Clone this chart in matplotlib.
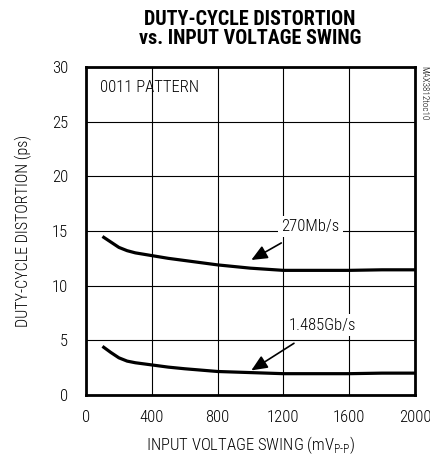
import matplotlib
matplotlib.use("Agg")
import matplotlib.pyplot as plt

plt.rcParams['font.family'] = ['Roboto Condensed', 'DejaVu Sans']
plt.rcParams['font.weight'] = 'light'
plt.rcParams['axes.labelweight'] = 'light'
plt.rcParams['mathtext.fontset'] = 'custom'
plt.rcParams['mathtext.rm'] = 'Roboto Condensed:light'

# data
swing = [100, 150, 200, 250, 300, 400, 500, 600, 800, 1000, 1200, 1400, 1600, 1800, 2000]
dcd_270 = [14.5, 14.0, 13.5, 13.2, 13.0, 12.75, 12.5, 12.3, 11.9, 11.6, 11.4, 11.4, 11.4, 11.45, 11.45]
dcd_1485 = [4.45, 3.9, 3.4, 3.1, 2.95, 2.75, 2.55, 2.4, 2.15, 2.05, 1.95, 1.95, 1.95, 2.0, 2.0]

xticks = [0, 400, 800, 1200, 1600, 2000]
yticks = [0, 5, 10, 15, 20, 25, 30]

fig = plt.figure(figsize=(4.3, 4.58), dpi=100)
ax = fig.add_axes([86/430, 1 - 395/458, 329/430, 328/458])

ax.plot(swing, dcd_270, color='black', lw=2.3, solid_capstyle='butt')
ax.plot(swing, dcd_1485, color='black', lw=2.3, solid_capstyle='butt')

ax.set_xlim(0, 2000)
ax.set_ylim(0, 30)
ax.set_xticks(xticks)
ax.set_yticks(yticks)
ax.grid(True, color='black', lw=0.8)
ax.tick_params(length=0, labelsize=12)
ax.tick_params(axis='x', pad=10.5)
ax.tick_params(axis='y', pad=13)
for s in ax.spines.values():
    s.set_linewidth(2)

ax.text(85, 28.1, '0011 PATTERN', fontsize=12, va='center', ha='left')

ax.annotate('270Mb/s', xy=(1005, 12.35), xytext=(1362, 15.4),
            fontsize=12, ha='center', va='center',
            bbox=dict(boxstyle='square,pad=0.2', fc='white', ec='none'),
            arrowprops=dict(arrowstyle='-|>,head_length=0.8,head_width=0.35',
                            color='black', lw=1.2, shrinkA=8, shrinkB=0))
ax.annotate('1.485Gb/s', xy=(1005, 2.25), xytext=(1439, 6.4),
            fontsize=12, ha='center', va='center',
            bbox=dict(boxstyle='square,pad=0.2', fc='white', ec='none'),
            arrowprops=dict(arrowstyle='-|>,head_length=0.8,head_width=0.35',
                            color='black', lw=1.2, shrinkA=10, shrinkB=0))

ax.set_xlabel('INPUT VOLTAGE SWING (mV$_{\\mathregular{P\u2010P}}$)', fontsize=12,
              fontweight='light', labelpad=7)
ax.set_ylabel('DUTY-CYCLE DISTORTION (ps)', fontsize=11.5, fontweight='light', labelpad=14)

fig.text(250/430, 1 - 29/458, 'DUTY-CYCLE DISTORTION\nvs. INPUT VOLTAGE SWING',
         ha='center', va='center', fontsize=14.5, fontweight='heavy', linespacing=1.05)
fig.text(424/430, 1 - 66/458, 'MAX3812toc10', rotation=270, fontsize=6.5,
         ha='center', va='top')

fig.savefig('out.png', dpi=100)
